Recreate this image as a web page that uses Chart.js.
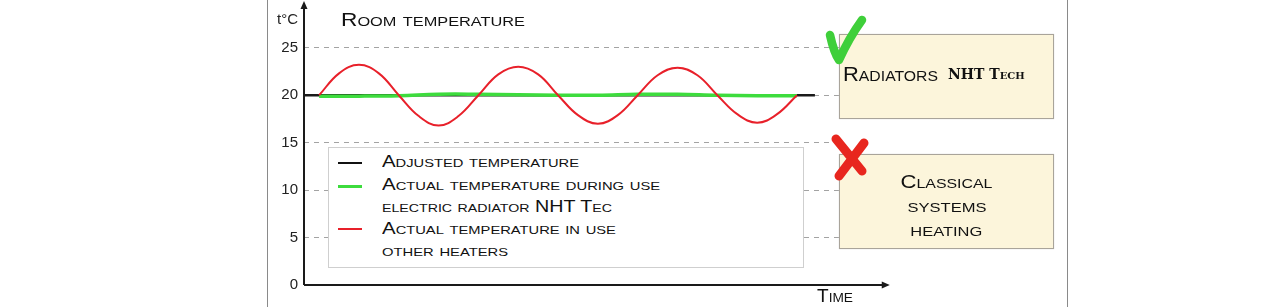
<!DOCTYPE html>
<html><head><meta charset="utf-8">
<script src="https://cdn.jsdelivr.net/npm/chart.js@4"></script>
<style>
html,body{margin:0;padding:0;background:#fff;}
#wrap{position:relative;width:1280px;height:307px;overflow:hidden;font-family:"Liberation Sans",Arial,sans-serif;color:#111;}
#c{position:absolute;left:0;top:0;}
.abs{position:absolute;white-space:nowrap;}
.fit{display:inline-block;transform-origin:0 50%;white-space:nowrap;}
.frame{position:absolute;top:0;width:0;height:307px;border-left:1.5px solid #8a8a8a;}
#legend{position:absolute;left:328px;top:147px;width:474px;height:119px;border:1px solid #cfcfcf;background:#fff;}
.row{position:absolute;left:53px;font-size:16px;line-height:20px;}
.samp{position:absolute;left:9px;width:24px;}
.box{position:absolute;left:839px;width:213px;background:#fcf5db;border:1.5px solid #a9a49a;box-shadow:0 0 1px #ccc;}
.cline{position:absolute;left:0;width:213px;text-align:center;font-size:18px;line-height:24px;}
.cline .fit{transform-origin:50% 50%;}
</style></head>
<body>
<div id="wrap">
  <canvas id="c" width="1280" height="307"></canvas>
  <div class="frame" style="left:267px"></div>
  <div class="frame" style="left:1067px"></div>
  <div class="abs" style="left:277px;top:10px;font-size:15px;line-height:18px;color:#222">t°C</div>
  <div class="abs" style="left:341px;top:8px;font-size:18.5px;line-height:24px;"><span class="fit sc" data-w="184">Room temperature</span></div>
  <div class="abs" style="left:817px;top:285px;font-size:18.5px;line-height:22px;"><span class="fit sc" data-w="36">Time</span></div>
  <div id="legend">
    <div class="samp" style="top:14px;height:2px;background:#111"></div>
    <div class="row" style="top:4px"><span class="fit sc" data-w="197">Adjusted temperature</span></div>
    <div class="samp" style="top:37px;height:3px;background:#3ddc3d"></div>
    <div class="row" style="top:27px"><span class="fit sc" data-w="278">Actual temperature during use</span></div>
    <div class="row" style="top:49px"><span class="fit sc" data-w="230">electric radiator NHT Tec</span></div>
    <div class="samp" style="top:80px;height:2px;background:#e8202a"></div>
    <div class="row" style="top:71px"><span class="fit sc" data-w="234">Actual temperature in use</span></div>
    <div class="row" style="top:93px"><span class="fit sc" data-w="126">other heaters</span></div>
  </div>
  <div class="box" style="top:34px;height:83px;">
    <div class="abs" style="left:3px;top:27px;line-height:24px;font-size:19.5px"><span class="fit sc" data-w="95">Radiators</span></div>
    <div class="abs" style="left:108px;top:27px;line-height:24px;"><span style="font-variant:small-caps;font-family:'DejaVu Serif',serif;font-weight:bold;font-size:14px">NHT Tech</span></div>
  </div>
  <div class="box" style="top:154px;height:93px;">
    <div class="cline" style="top:15px"><span class="fit sc" data-w="92">Classical</span></div>
    <div class="cline" style="top:39px"><span class="fit sc" data-w="79">systems</span></div>
    <div class="cline" style="top:63px"><span class="fit sc" data-w="72">heating</span></div>
  </div>
  <svg class="abs" style="left:0;top:0" width="1280" height="307">
    <path d="M830 35 Q834 53 839 60 Q849 38 862 20" fill="none" stroke="#3fcf3a" stroke-width="8.5" stroke-linecap="round" stroke-linejoin="round"/>
    <path d="M836 139 L862 171 M864 143 L839 176" fill="none" stroke="#e8261e" stroke-width="9" stroke-linecap="round"/>
  </svg>
</div>
<script>
// ---- data ----
const yTickValues = [0, 5, 10, 15, 20, 25];
const yRange = [0, 28.45];
const xRange = [-0.38, 13.08];
const xAxisEnd = 14.33;

const timeRed = [0,0.5,1,1.5,2,2.5,3,3.5,4,4.5,5,5.5,6,6.5,7,7.5,8,8.5,9,9.5,10,10.5,11,11.5,12];
const tempRed = [20,22.3,23.2,22.3,20,17.8,16.8,17.8,20,22.2,23.0,22.2,20,17.9,17.0,17.9,20,22.1,22.9,22.1,20,18.0,17.1,18.0,20];

const timeGreen = [0,1,2,3,4,5,6,7,8,9,10,11,12];
const tempGreen = [19.9,19.9,19.95,20.1,20.1,20.05,20.0,20.0,20.1,20.1,20.0,19.95,19.95];

const timeBlack = [-0.38, 12.45];
const tempBlack = [20, 20];

const seriesNames = ['Adjusted temperature','Actual temperature (NHT Tec)','Actual temperature (other heaters)'];

// ---- small caps text helper (keeps real text, just styles lowercase runs) ----
document.querySelectorAll('.sc').forEach(el => {
  const txt = el.textContent;
  el.textContent = '';
  txt.split(/([a-z]+)/).forEach(part => {
    if (!part) return;
    if (/^[a-z]+$/.test(part)) {
      const s = document.createElement('span');
      s.style.fontSize = '0.72em';
      s.style.textTransform = 'uppercase';
      s.textContent = part;
      el.appendChild(s);
    } else {
      el.appendChild(document.createTextNode(part));
    }
  });
});
document.querySelectorAll('.fit').forEach(el => {
  const w = parseFloat(el.dataset.w);
  const nat = el.getBoundingClientRect().width;
  if (w && nat) el.style.transform = 'scaleX(' + (w / nat).toFixed(3) + ')';
});

const toPts = (xs, ys) => xs.map((x, i) => ({x, y: ys[i]}));

const axesPlugin = {
  id: 'axesArrows',
  afterDraw(chart) {
    const {ctx, scales} = chart;
    const x0 = scales.x.getPixelForValue(xRange[0]);
    const y0 = scales.y.getPixelForValue(0);
    const xEnd = scales.x.getPixelForValue(xAxisEnd);
    const yTop = 1;
    ctx.save();
    ctx.strokeStyle = '#1a1a1a'; ctx.fillStyle = '#1a1a1a'; ctx.lineWidth = 2;
    ctx.beginPath(); ctx.moveTo(x0, y0); ctx.lineTo(x0, yTop + 6); ctx.stroke();
    ctx.beginPath(); ctx.moveTo(x0, yTop); ctx.lineTo(x0 - 3.5, yTop + 8); ctx.lineTo(x0 + 3.5, yTop + 8); ctx.closePath(); ctx.fill();
    ctx.beginPath(); ctx.moveTo(x0, y0); ctx.lineTo(xEnd - 6, y0); ctx.stroke();
    ctx.beginPath(); ctx.moveTo(xEnd, y0); ctx.lineTo(xEnd - 8, y0 - 3.5); ctx.lineTo(xEnd - 8, y0 + 3.5); ctx.closePath(); ctx.fill();
    ctx.restore();
  }
};

new Chart(document.getElementById('c'), {
  type: 'line',
  data: {
    datasets: [
      {label: seriesNames[2], data: toPts(timeRed, tempRed), borderColor: '#e8202a', borderWidth: 2, tension: 0.4, pointRadius: 0, order: 0},
      {label: seriesNames[1], data: toPts(timeGreen, tempGreen), borderColor: '#3ddc3d', borderWidth: 3.5, tension: 0.4, pointRadius: 0, order: 1},
      {label: seriesNames[0], data: toPts(timeBlack, tempBlack), borderColor: '#1a1a1a', borderWidth: 2.5, pointRadius: 0, order: 2}
    ]
  },
  options: {
    responsive: false,
    animation: false,
    events: [],
    layout: {padding: {left: 0, right: 440, top: 2, bottom: 22}},
    plugins: {legend: {display: false}, tooltip: {enabled: false}, title: {display: false}},
    scales: {
      x: {type: 'linear', display: false, min: xRange[0], max: xRange[1]},
      y: {
        min: yRange[0], max: yRange[1],
        afterBuildTicks: s => { s.ticks = yTickValues.map(v => ({value: v})); },
        afterFit: s => { s.width = 304; },
        border: {display: false, dash: [5, 5]},
        grid: {drawTicks: false, color: c => (c.tick && c.tick.value === 0) ? 'rgba(0,0,0,0)' : '#a3a3a3', lineWidth: 1},
        ticks: {padding: 6, color: '#222', font: {family: 'Liberation Sans', size: 15}}
      }
    }
  },
  plugins: [axesPlugin]
});
</script>
</body></html>
